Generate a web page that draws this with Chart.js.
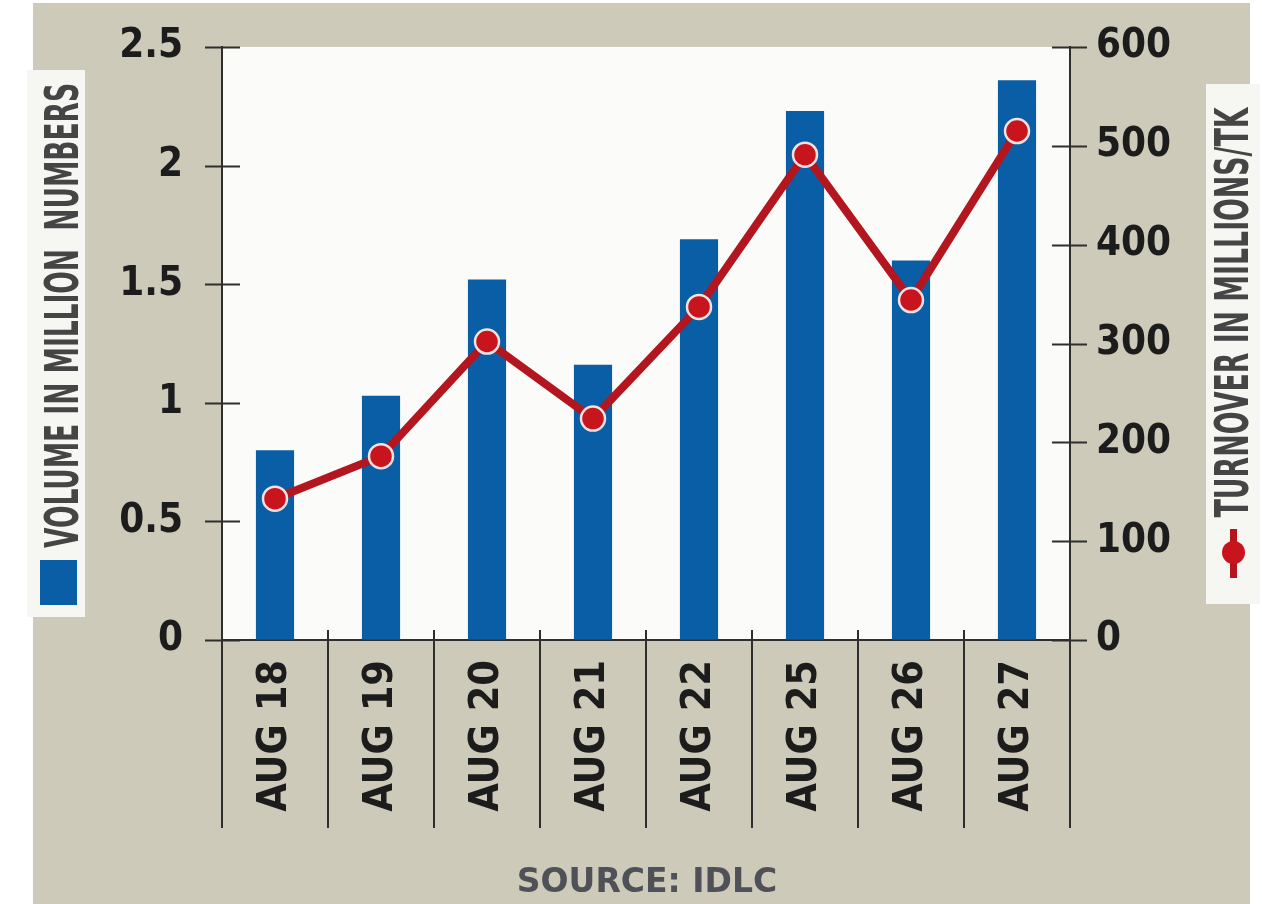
<!DOCTYPE html>
<html>
<head>
<meta charset="utf-8">
<script src="https://cdn.jsdelivr.net/npm/chart.js@4.4.1/dist/chart.umd.min.js"></script>
<style>
    body { margin: 0; background: #fff; width: 1262px; height: 904px; overflow: hidden; position: relative; }
    .panel { position: absolute; left: 33px; top: 3px; width: 1217px; height: 901px; background: #cdcab9; }
    #chart { position: absolute; left: 0; top: 0; }
    .titleBox { position: absolute; background: #f6f6f3; }
    .axisTitle {
        position: absolute; white-space: pre; color: #454545;
        font-family: "Liberation Sans Narrow", "DejaVu Sans Condensed", sans-serif;
        font-weight: bold; font-size: 47px; line-height: 47px;
    }
    .source {
        position: absolute; left: 0; width: 1294px; top: 864px; text-align: center;
        font-family: "DejaVu Sans", sans-serif; font-weight: bold; font-size: 33px; line-height: 33px;
        color: #505058;
    }
</style>
</head>
<body>
<div class="panel"></div>
<canvas id="chart" width="1262" height="904"></canvas>

<div class="titleBox" style="left:27px; top:70px; width:58px; height:547px;"></div>
<div class="titleBox" style="left:1206px; top:84px; width:54px; height:520px;"></div>
<div class="axisTitle" id="leftTitle" data-cx="61" data-cy="315" data-len="465">VOLUME IN MILLION  NUMBERS</div>
<div class="axisTitle" id="rightTitle" data-cx="1231" data-cy="312" data-len="410">TURNOVER IN MILLIONS/TK</div>
<div style="position:absolute; left:40px; top:560px; width:37px; height:45px; background:#0a5ea6;"></div>
<div style="position:absolute; left:1230px; top:529px; width:7px; height:49px; background:#b5161e;"></div>
<div style="position:absolute; left:1222px; top:541px; width:23px; height:23px; border-radius:50%; background:#c8141d;"></div>
<div class="source">SOURCE: IDLC</div>

<script>
const categories = ['AUG 18', 'AUG 19', 'AUG 20', 'AUG 21', 'AUG 22', 'AUG 25', 'AUG 26', 'AUG 27'];
const volume = [0.80, 1.03, 1.52, 1.16, 1.69, 2.23, 1.60, 2.36];
const turnover = [143, 186, 302, 224, 337, 491, 344, 515];

const narrow = '"Liberation Sans Narrow", "DejaVu Sans Condensed", sans-serif';
const axisColor = '#2e2e2e';

// condensed rotated axis titles
document.querySelectorAll('.axisTitle').forEach(el => {
    const w = el.offsetWidth;
    const h = el.offsetHeight;
    const k = Number(el.dataset.len) / w;
    el.style.left = (Number(el.dataset.cx) - w / 2) + 'px';
    el.style.top = (Number(el.dataset.cy) - h / 2) + 'px';
    el.style.transform = 'rotate(-90deg) scaleX(' + k + ')';
});

const plotBackground = {
    id: 'plotBackground',
    beforeDraw(chart) {
        const {ctx, chartArea: a} = chart;
        ctx.save();
        ctx.fillStyle = '#fbfbfa';
        ctx.fillRect(a.left, a.top, a.right - a.left, a.bottom - a.top);
        ctx.restore();
    }
};

//tick marks crossing the axes and category separators below the x axis
const axisMarks = {
    id: 'axisMarks',
    afterDraw(chart) {
        const {ctx, chartArea: a, scales} = chart;
        ctx.save();
        ctx.strokeStyle = axisColor;
        ctx.lineWidth = 2;
        ctx.beginPath();
        scales.y.ticks.forEach(t => {
            const py = Math.round(scales.y.getPixelForValue(t.value)) + 0.5;
            ctx.moveTo(a.left - 17, py);
            ctx.lineTo(a.left + 18, py);
        });
        scales.y1.ticks.forEach(t => {
            const py = Math.round(scales.y1.getPixelForValue(t.value)) + 0.5;
            ctx.moveTo(a.right - 18, py);
            ctx.lineTo(a.right + 17, py);
        });
        const half = (scales.x.getPixelForValue(1) - scales.x.getPixelForValue(0)) / 2;
        for (let i = 0; i <= categories.length; i++) {
            const px = Math.round(scales.x.getPixelForValue(i) - half);
            ctx.moveTo(px, a.bottom - 10);
            ctx.lineTo(px, a.bottom + 188);
        }
        ctx.stroke();
        ctx.restore();
    }
};

// keep the plot box fixed, labels may overhang it
function noPadding(scale) {
    scale.paddingTop = 0;
    scale.paddingBottom = 0;
    scale.paddingLeft = 0;
    scale.paddingRight = 0;
}

const tickFont = { family: narrow, size: 40, weight: 'bold' };

new Chart(document.getElementById('chart'), {
    data: {
        labels: categories,
        datasets: [
            {
                type: 'line',
                label: 'TURNOVER IN MILLIONS/TK',
                data: turnover,
                yAxisID: 'y1',
                order: 0,
                borderColor: '#b3161e',
                borderWidth: 8,
                tension: 0,
                pointRadius: 12,
                pointBorderWidth: 2.5,
                pointBackgroundColor: '#c8141d',
                pointBorderColor: '#f1e1e1',
            },
            {
                type: 'bar',
                label: 'VOLUME IN MILLION NUMBERS',
                data: volume,
                yAxisID: 'y',
                order: 1,
                backgroundColor: '#0a5ea6',
                categoryPercentage: 1,
                barPercentage: 0.36,
            }
        ]
    },
    options: {
        responsive: false,
        animation: false,
        devicePixelRatio: 1,
        layout: { padding: { top: 47, left: 0, right: 0, bottom: 0 } },
        plugins: {
            legend: { display: false },
            tooltip: { enabled: false },
        },
        scales: {
            x: {
                offset: true,
                grid: { display: true, drawOnChartArea: false, drawTicks: false },
                border: { display: true, color: axisColor, width: 2 },
                ticks: {
                    autoSkip: false,
                    minRotation: 90,
                    maxRotation: 90,
                    padding: 20,
                    color: '#1c1c1c',
                    font: { family: narrow, size: 41, weight: 'bold' },
                },
                afterFit(scale) { scale.height = 264; noPadding(scale); },
            },
            y: {
                position: 'left',
                min: 0,
                max: 2.5,
                ticks: {
                    stepSize: 0.5,
                    padding: 39,
                    color: '#1c1c1c',
                    font: tickFont,
                    callback: v => String(v),
                },
                grid: { display: true, drawOnChartArea: false, drawTicks: false },
                border: { display: true, color: axisColor, width: 2 },
                afterFit(scale) { scale.width = 222; noPadding(scale); },
            },
            y1: {
                position: 'right',
                min: 0,
                max: 600,
                ticks: {
                    stepSize: 100,
                    padding: 26,
                    color: '#1c1c1c',
                    font: tickFont,
                },
                grid: { display: true, drawOnChartArea: false, drawTicks: false },
                border: { display: true, color: axisColor, width: 2 },
                afterFit(scale) { scale.width = 192; noPadding(scale); },
            }
        }
    },
    plugins: [plotBackground, axisMarks]
});
</script>
</body>
</html>
